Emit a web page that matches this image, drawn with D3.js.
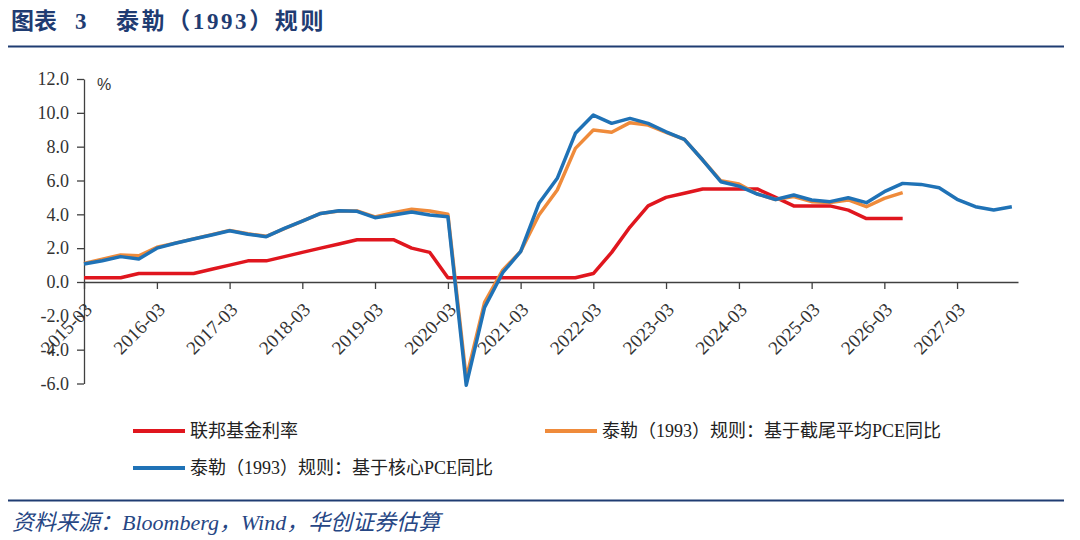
<!DOCTYPE html>
<html>
<head>
<meta charset="utf-8">
<script src="https://cdn.jsdelivr.net/npm/d3@7/dist/d3.min.js"></script>
<style>
  body { margin: 0; background: #fff; }
  svg { display: block; }
</style>
</head>
<body>
<svg id="chart" width="1080" height="540"></svg>
<script>
// quarterly dates, 2015-03 .. 2027-12
const quarters = [
  "2015-03","2015-06","2015-09","2015-12","2016-03","2016-06","2016-09","2016-12",
  "2017-03","2017-06","2017-09","2017-12","2018-03","2018-06","2018-09","2018-12",
  "2019-03","2019-06","2019-09","2019-12","2020-03","2020-06","2020-09","2020-12",
  "2021-03","2021-06","2021-09","2021-12","2022-03","2022-06","2022-09","2022-12",
  "2023-03","2023-06","2023-09","2023-12","2024-03","2024-06","2024-09","2024-12",
  "2025-03","2025-06","2025-09","2025-12","2026-03","2026-06","2026-09","2026-12",
  "2027-03","2027-06","2027-09","2027-12"
];

const fedFunds = [
  0.25,0.25,0.25,0.5, 0.5,0.5,0.5,0.75, 1.0,1.25,1.25,1.5, 1.75,2.0,2.25,2.5,
  2.5,2.5,2.0,1.75, 0.25,0.25,0.25,0.25, 0.25,0.25,0.25,0.25, 0.5,1.75,3.25,4.5,
  5.0,5.25,5.5,5.5, 5.5,5.5,5.0,4.5, 4.5,4.5,4.25,3.75, 3.75,3.75
];

const taylorTrimmed = [
  1.1,1.35,1.6,1.55, 2.05,2.3,2.55,2.8, 3.05,2.85,2.7,3.15, 3.6,4.05,4.2,4.2,
  3.85,4.1,4.3,4.2, 4.0,-5.7,-1.2,0.7, 1.8,3.96,5.44,7.9, 8.98,8.85,9.42,9.28,
  8.85,8.43,7.21,5.98, 5.79,5.2,4.88,5.05, 4.75,4.7,4.85,4.45, 4.94,5.28
];

const taylorCore = [
  1.06,1.26,1.5,1.36, 2.0,2.29,2.54,2.78, 3.03,2.82,2.68,3.17, 3.6,4.05,4.21,4.18,
  3.8,3.96,4.14,3.96, 3.86,-6.1,-1.5,0.55, 1.8,4.65,6.13,8.79, 9.87,9.38,9.67,9.38,
  8.88,8.43,7.21,5.93, 5.67,5.2,4.88,5.14, 4.85,4.75,4.98,4.69, 5.34,5.83,5.77,5.57,
  4.89,4.45,4.26,4.45
];

const yTicks = [-6, -4, -2, 0, 2, 4, 6, 8, 10, 12];
const xTickLabels = ["2015-03","2016-03","2017-03","2018-03","2019-03","2020-03",
  "2021-03","2022-03","2023-03","2024-03","2025-03","2026-03","2027-03"];

const series = [
  {name: "联邦基金利率", values: fedFunds, color: "#e0161e"},
  {name: "泰勒（1993）规则：基于截尾平均PCE同比", values: taylorTrimmed, color: "#ef8b3b"},
  {name: "泰勒（1993）规则：基于核心PCE同比", values: taylorCore, color: "#1f72b6"}
];

const navy = "#1f3c72";
const serif = "'Liberation Serif', 'Noto Sans CJK SC', serif";
const cjk = "'Liberation Serif', 'Noto Sans CJK SC', sans-serif";

const svg = d3.select("#chart");
const parse = d3.timeParse("%Y-%m");

const x = d3.scaleTime()
    .domain([parse("2015-03"), parse("2028-01")])
    .range([84, 1018]);

const y = d3.scaleLinear()
    .domain([-6, 12])
    .range([383.5, 79]);

// title + rules
const title = svg.append("g")
    .attr("fill", navy)
    .attr("font-family", cjk)
    .attr("font-weight", "bold")
    .attr("font-size", 23);

title.append("text").attr("x", 11).attr("y", 29).text("图表");
title.append("text").attr("x", 75).attr("y", 29).text("3");
title.append("text").attr("x", 116).attr("y", 29)
    .attr("letter-spacing", 2.6)
    .text("泰勒（1993）规则");

svg.append("line")
    .attr("x1", 8).attr("x2", 1064)
    .attr("y1", 46.5).attr("y2", 46.5)
    .attr("stroke", navy).attr("stroke-width", 2);

svg.append("line")
    .attr("x1", 8).attr("x2", 1064)
    .attr("y1", 500.5).attr("y2", 500.5)
    .attr("stroke", navy).attr("stroke-width", 2);

svg.append("text")
    .attr("x", 12)
    .attr("y", 530)
    .attr("fill", "#264684")
    .attr("font-family", cjk)
    .attr("font-style", "italic")
    .attr("font-size", 22)
    .text("资料来源：Bloomberg，Wind，华创证券估算");

// y axis
svg.append("g")
    .attr("transform", "translate(84,0)")
    .call(d3.axisLeft(y).tickValues(yTicks).tickSize(7).tickSizeOuter(0)
      .tickFormat(d => d.toFixed(1)))
    .call(g => g.selectAll("path, line").attr("stroke", "#404040").attr("stroke-width", 1.3))
    .call(g => g.selectAll("text")
        .attr("font-family", serif)
        .attr("font-size", 18)
        .attr("fill", "#333")
        .attr("x", -15));

svg.append("text")
    .attr("x", 97)
    .attr("y", 90)
    .attr("font-family", "'Liberation Sans', Arial, sans-serif")
    .attr("font-size", 16)
    .attr("fill", "#333")
    .text("%");

// x axis at zero
svg.append("g")
    .attr("transform", `translate(0,${y(0)})`)
    .call(d3.axisBottom(x).tickValues(xTickLabels.map(parse)).tickSize(7).tickSizeOuter(0)
      .tickFormat(d3.timeFormat("%Y-%m")))
    .call(g => g.selectAll("path, line").attr("stroke", "#404040").attr("stroke-width", 1.3))
    .call(g => g.selectAll("text")
        .attr("font-family", serif)
        .attr("font-size", 19)
        .attr("fill", "#333")
        .attr("text-anchor", "end")
        .attr("dy", "0.35em")
        .attr("transform", "translate(4,24) rotate(-45)")
        .attr("y", 0).attr("x", 0));

// lines
const line = d3.line()
    .x((d, i) => x(parse(quarters[i])))
    .y(d => y(d));

svg.append("g")
  .selectAll("path")
  .data(series)
  .join("path")
    .attr("fill", "none")
    .attr("stroke", d => d.color)
    .attr("stroke-width", 3.5)
    .attr("stroke-linejoin", "round")
    .attr("d", d => line(d.values));

// legend
const legendPos = [[133, 431], [545, 431], [133, 468]];
const legend = svg.append("g")
  .selectAll("g")
  .data(series)
  .join("g")
    .attr("transform", (d, i) => `translate(${legendPos[i][0]},${legendPos[i][1]})`);

legend.append("line")
    .attr("x1", 0).attr("x2", 52)
    .attr("stroke", d => d.color)
    .attr("stroke-width", 4);

legend.append("text")
    .attr("x", 57)
    .attr("dy", "0.35em")
    .attr("font-family", cjk)
    .attr("font-size", 18)
    .attr("fill", "#222")
    .text(d => d.name);
</script>
</body>
</html>
